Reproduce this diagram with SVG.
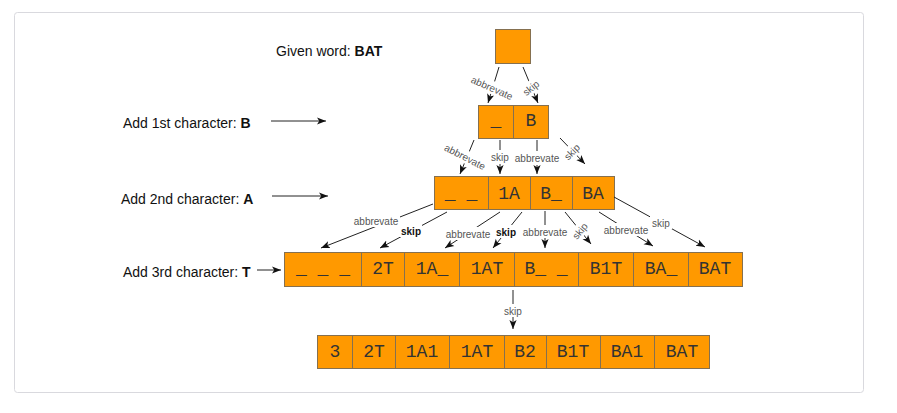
<svg xmlns="http://www.w3.org/2000/svg" width="897" height="413" viewBox="0 0 897 413">
<style>
.box{fill:#FF9900;stroke:#857050;stroke-width:1}
.bt{font-family:"Liberation Mono","Courier New",monospace;font-size:18px;fill:#333;text-anchor:middle}
.lt{font-family:"Liberation Sans",Arial,sans-serif;font-size:14px;fill:#111}
.ln{stroke:#222;stroke-width:1;fill:none;marker-end:url(#ah)}
.cl{font-family:"Liberation Sans",Arial,sans-serif;font-size:10px;fill:#555;text-anchor:middle}
.cb{font-family:"Liberation Sans",Arial,sans-serif;font-size:10px;fill:#111;font-weight:bold;text-anchor:middle}
.bg{fill:#fff}
</style>
<defs>
<marker id="ah" viewBox="0 0 10 10" refX="10" refY="5" markerWidth="9" markerHeight="9" markerUnits="userSpaceOnUse" orient="auto">
<path d="M0,1 L10,5 L0,9 L2.5,5 z" fill="#111"/>
</marker>
</defs>
<rect x="14.5" y="12.5" width="849" height="380" rx="3" fill="#fff" stroke="#d9d9de"/>

<g id="labels">
<text class="lt" x="276" y="56">Given word: <tspan font-weight="bold">BAT</tspan></text>
<text class="lt" x="123" y="128">Add 1st character: <tspan font-weight="bold">B</tspan></text>
<text class="lt" x="121" y="204">Add 2nd character: <tspan font-weight="bold">A</tspan></text>
<text class="lt" x="123" y="277">Add 3rd character: <tspan font-weight="bold">T</tspan></text>
</g>

<g id="level-arrows">
<line class="ln" x1="271" y1="121" x2="326" y2="121"/>
<line class="ln" x1="272" y1="196" x2="328" y2="196"/>
<line class="ln" x1="257" y1="270" x2="281" y2="270"/>
</g>

<g id="root"><rect class="box" x="495.5" y="29.5" width="35" height="34"/></g>

<g id="r1-a"><rect class="box" x="478.5" y="105.5" width="35" height="33"/><text class="bt" x="496" y="126">_</text></g>
<g id="r1-b"><rect class="box" x="513.5" y="105.5" width="35" height="33"/><text class="bt" x="531" y="126">B</text></g>

<g id="r2-a"><rect class="box" x="434.5" y="176.5" width="54" height="33"/><text class="bt" x="461" y="199">_ _</text></g>
<g id="r2-b"><rect class="box" x="488.5" y="176.5" width="42" height="33"/><text class="bt" x="509" y="199">1A</text></g>
<g id="r2-c"><rect class="box" x="530.5" y="176.5" width="42" height="33"/><text class="bt" x="551" y="199">B_</text></g>
<g id="r2-d"><rect class="box" x="572.5" y="176.5" width="42" height="33"/><text class="bt" x="593" y="199">BA</text></g>

<g id="r3-a"><rect class="box" x="284.5" y="252.5" width="77" height="34"/><text class="bt" x="323" y="274">_ _ _</text></g>
<g id="r3-b"><rect class="box" x="361.5" y="252.5" width="43" height="34"/><text class="bt" x="383" y="274">2T</text></g>
<g id="r3-c"><rect class="box" x="404.5" y="252.5" width="55" height="34"/><text class="bt" x="432" y="274">1A_</text></g>
<g id="r3-d"><rect class="box" x="459.5" y="252.5" width="55" height="34"/><text class="bt" x="487" y="274">1AT</text></g>
<g id="r3-e"><rect class="box" x="514.5" y="252.5" width="64" height="34"/><text class="bt" x="546" y="274">B_ _</text></g>
<g id="r3-f"><rect class="box" x="578.5" y="252.5" width="55" height="34"/><text class="bt" x="606" y="274">B1T</text></g>
<g id="r3-g"><rect class="box" x="633.5" y="252.5" width="55" height="34"/><text class="bt" x="661" y="274">BA_</text></g>
<g id="r3-h"><rect class="box" x="688.5" y="252.5" width="54" height="34"/><text class="bt" x="715" y="274">BAT</text></g>

<g id="r4-a"><rect class="box" x="317.5" y="335.5" width="35" height="33"/><text class="bt" x="335" y="357">3</text></g>
<g id="r4-b"><rect class="box" x="352.5" y="335.5" width="43" height="33"/><text class="bt" x="374" y="357">2T</text></g>
<g id="r4-c"><rect class="box" x="395.5" y="335.5" width="54" height="33"/><text class="bt" x="422" y="357">1A1</text></g>
<g id="r4-d"><rect class="box" x="449.5" y="335.5" width="55" height="33"/><text class="bt" x="477" y="357">1AT</text></g>
<g id="r4-e"><rect class="box" x="504.5" y="335.5" width="42" height="33"/><text class="bt" x="525" y="357">B2</text></g>
<g id="r4-f"><rect class="box" x="546.5" y="335.5" width="54" height="33"/><text class="bt" x="573" y="357">B1T</text></g>
<g id="r4-g"><rect class="box" x="600.5" y="335.5" width="54" height="33"/><text class="bt" x="627" y="357">BA1</text></g>
<g id="r4-h"><rect class="box" x="654.5" y="335.5" width="55" height="33"/><text class="bt" x="682" y="357">BAT</text></g>

<g id="connectors">
<line class="ln" x1="499" y1="67" x2="488" y2="103"/>
<line class="ln" x1="523" y1="67" x2="538" y2="103"/>
<line class="ln" x1="474" y1="140" x2="460" y2="174"/>
<line class="ln" x1="500" y1="140" x2="500" y2="174"/>
<line class="ln" x1="537" y1="140" x2="537" y2="174"/>
<line class="ln" x1="560" y1="138" x2="585" y2="164"/>
<line class="ln" x1="433" y1="204" x2="321" y2="248"/>
<line class="ln" x1="447" y1="212" x2="380" y2="248"/>
<line class="ln" x1="500" y1="212" x2="445" y2="248"/>
<line class="ln" x1="522" y1="212" x2="493" y2="248"/>
<line class="ln" x1="545" y1="211" x2="545" y2="248"/>
<line class="ln" x1="565" y1="212" x2="591" y2="244"/>
<line class="ln" x1="599" y1="212" x2="653" y2="246"/>
<line class="ln" x1="614" y1="197" x2="705" y2="247"/>
<line class="ln" x1="513" y1="290" x2="513" y2="329"/>

<g transform="translate(492,88) rotate(24)"><rect class="bg" x="-24" y="-7" width="48" height="13"/><text class="cl" y="3.5">abbrevate</text></g>
<g transform="translate(531,88) rotate(-38)"><rect class="bg" x="-11" y="-7" width="22" height="13"/><text class="cl" y="3.5">skip</text></g>
<g transform="translate(465,157) rotate(27)"><rect class="bg" x="-24" y="-7" width="48" height="13"/><text class="cl" y="3.5">abbrevate</text></g>
<g transform="translate(500,157)"><rect class="bg" x="-11" y="-7" width="22" height="14"/><text class="cl" y="3.5">skip</text></g>
<g transform="translate(537,158)"><rect class="bg" x="-24" y="-7" width="48" height="14"/><text class="cl" y="3.5">abbrevate</text></g>
<g transform="translate(572,152) rotate(-45)"><rect class="bg" x="-11" y="-7" width="22" height="13"/><text class="cl" y="3.5">skip</text></g>
<g transform="translate(376,221)"><rect class="bg" x="-24" y="-7" width="48" height="13"/><text class="cl" y="3.5">abbrevate</text></g>
<g transform="translate(411,231)"><rect class="bg" x="-11" y="-7" width="22" height="13"/><text class="cb" y="3.5">skip</text></g>
<g transform="translate(468,234)"><rect class="bg" x="-24" y="-7" width="48" height="13"/><text class="cl" y="3.5">abbrevate</text></g>
<g transform="translate(506,232)"><rect class="bg" x="-11" y="-7" width="22" height="13"/><text class="cb" y="3.5">skip</text></g>
<g transform="translate(545,232)"><rect class="bg" x="-24" y="-7" width="48" height="13"/><text class="cl" y="3.5">abbrevate</text></g>
<g transform="translate(580,231) rotate(-50)"><rect class="bg" x="-11" y="-7" width="22" height="13"/><text class="cl" y="3.5">skip</text></g>
<g transform="translate(626,230)"><rect class="bg" x="-24" y="-7" width="48" height="13"/><text class="cl" y="3.5">abbrevate</text></g>
<g transform="translate(661,223)"><rect class="bg" x="-11" y="-7" width="22" height="13"/><text class="cl" y="3.5">skip</text></g>
<g transform="translate(513,311)"><rect class="bg" x="-11" y="-7" width="22" height="13"/><text class="cl" y="3.5">skip</text></g>
</g>
</svg>
